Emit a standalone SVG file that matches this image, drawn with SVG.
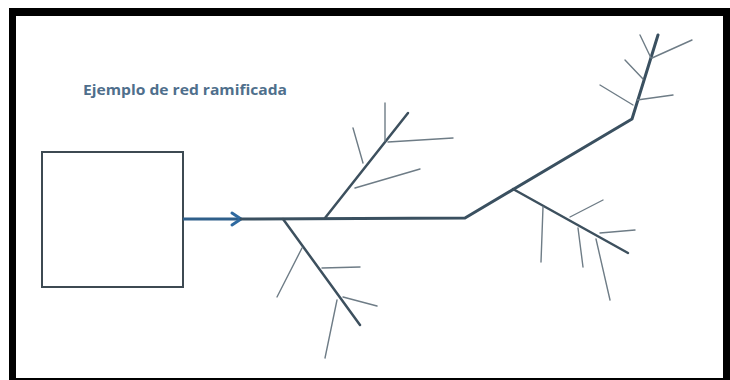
<svg xmlns="http://www.w3.org/2000/svg" width="730" height="380" viewBox="0 0 730 380">
<style>
.main{stroke:#3a5060;stroke-width:3;fill:none;stroke-linecap:round;stroke-linejoin:round}
.br{stroke:#3d505e;stroke-width:2.5;fill:none;stroke-linecap:round}
.tw{stroke:#6e7c86;stroke-width:1.4;fill:none;stroke-linecap:round}
.title{font-family:"Open Sans","Liberation Sans",sans-serif;font-weight:bold;font-size:14px;fill:#4f6f8c}
</style>
<rect x="0" y="0" width="730" height="380" fill="#ffffff"/>
<rect x="9" y="8" width="721" height="372" fill="#000000"/>
<rect x="16" y="16" width="707" height="362" fill="#ffffff"/>
<text class="title" x="83" y="95" textLength="204" lengthAdjust="spacingAndGlyphs">Ejemplo de red ramificada</text>
<g id="tank">
<rect x="42" y="152" width="141" height="135" fill="#ffffff" stroke="#3d4a52" stroke-width="2"/>
</g>
<g id="connectors">
<line x1="183" y1="219" x2="241" y2="219" stroke="#2f5f8a" stroke-width="3"/>
<polyline points="232,213 241,219 232,225" fill="none" stroke="#2f6aa0" stroke-width="3" stroke-linecap="round" stroke-linejoin="round"/>
<polyline class="main" points="241,219 465,218 632,119 658,35"/>
<line class="br" x1="325" y1="218" x2="408" y2="113"/>
<line class="br" x1="283" y1="219" x2="360" y2="325"/>
<line class="br" x1="513" y1="189" x2="628" y2="253"/>
<line class="tw" x1="385" y1="103" x2="385" y2="141"/>
<line class="tw" x1="388" y1="142" x2="453" y2="138"/>
<line class="tw" x1="353" y1="128" x2="363" y2="163"/>
<line class="tw" x1="355" y1="188" x2="420" y2="169"/>
<line class="tw" x1="302" y1="248" x2="277" y2="297"/>
<line class="tw" x1="322" y1="268" x2="360" y2="267"/>
<line class="tw" x1="343" y1="297" x2="377" y2="306"/>
<line class="tw" x1="337" y1="300" x2="325" y2="358"/>
<line class="tw" x1="543" y1="207" x2="541" y2="262"/>
<line class="tw" x1="570" y1="217" x2="603" y2="200"/>
<line class="tw" x1="578" y1="228" x2="583" y2="267"/>
<line class="tw" x1="600" y1="233" x2="635" y2="230"/>
<line class="tw" x1="596" y1="239" x2="610" y2="300"/>
<line class="tw" x1="640" y1="35" x2="651" y2="58"/>
<line class="tw" x1="652" y1="58" x2="692" y2="40"/>
<line class="tw" x1="625" y1="60" x2="643" y2="79"/>
<line class="tw" x1="600" y1="85" x2="633" y2="105"/>
<line class="tw" x1="637" y1="100" x2="673" y2="95"/>
</g>
</svg>
